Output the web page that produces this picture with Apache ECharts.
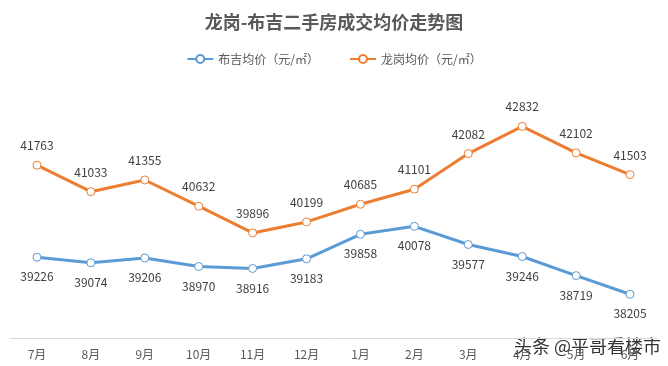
<!DOCTYPE html>
<html><head><meta charset="utf-8">
<script src="https://cdn.jsdelivr.net/npm/echarts@6/dist/echarts.min.js"></script>
<style>html,body{margin:0;padding:0;background:#fff}#c{width:668px;height:366px}</style>
</head><body><div id="c"></div>
<script>
var categories = ['7月','8月','9月','10月','11月','12月','1月','2月','3月','4月','5月','6月'];
var bujiValues = [39226, 39074, 39206, 38970, 38916, 39183, 39858, 40078, 39577, 39246, 38719, 38205];
var longgangValues = [41763, 41033, 41355, 40632, 39896, 40199, 40685, 41101, 42082, 42832, 42102, 41503];
var seriesNames = ['布吉均价（元/㎡）', '龙岗均价（元/㎡）'];
var font = '"Microsoft YaHei","Noto Sans CJK SC",sans-serif';
var chart = echarts.init(document.getElementById('c'));
chart.setOption({
  animation: false,
  backgroundColor: '#fff',
  title: { text: '龙岗-布吉二手房成交均价走势图', left: 'center', top: 8,
    textStyle: { fontFamily: font, fontSize: 18, fontWeight: 'bold', color: '#595959' } },
  legend: { top: 48, left: 'center', itemGap: 30, itemWidth: 26, itemHeight: 10,
    textStyle: { fontFamily: font, fontSize: 12, color: '#595959' }, data: seriesNames },
  grid: { left: 10, right: 11, top: 84, bottom: 28 },
  xAxis: { type: 'category', data: categories, boundaryGap: true,
    axisLine: { lineStyle: { color: '#d9d9d9', width: 1 } }, axisTick: { show: false },
    axisLabel: { fontFamily: font, fontSize: 12, color: '#595959', margin: 10 } },
  yAxis: { type: 'value', min: 37000, max: 44000, show: false, splitLine: { show: false } },
  series: [
    { name: seriesNames[0], type: 'line', data: bujiValues, color: '#5b9bd5',
      lineStyle: { width: 3, color: '#5b9bd5' }, symbol: 'circle', symbolSize: 8,
      itemStyle: { color: '#fff', borderColor: '#5b9bd5', borderWidth: 1 },
      label: { show: true, position: 'bottom', distance: 9, fontFamily: font, fontSize: 12, color: '#404040' } },
    { name: seriesNames[1], type: 'line', data: longgangValues, color: '#ed7d31',
      lineStyle: { width: 3, color: '#ed7d31' }, symbol: 'circle', symbolSize: 8,
      itemStyle: { color: '#fff', borderColor: '#ed7d31', borderWidth: 1 },
      label: { show: true, position: 'top', distance: 9, fontFamily: font, fontSize: 12, color: '#404040' } }
  ],
  graphic: [{ type: 'text', right: 6, top: 336,
    style: { text: '头条 @平哥看楼市', font: '18px ' + font, fill: '#333', stroke: '#fff', lineWidth: 2 } }]
});
</script></body></html>
